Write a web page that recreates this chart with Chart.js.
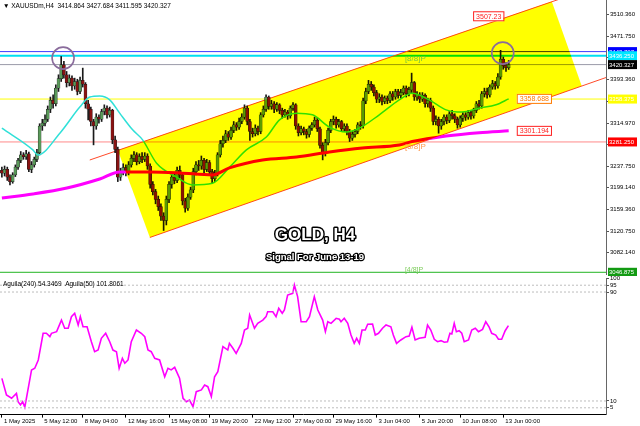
<!DOCTYPE html>
<html>
<head>
<meta charset="utf-8">
<script src="https://cdn.jsdelivr.net/npm/chart.js@4"></script>
<style>
  html, body { margin: 0; padding: 0; background: #fff; }
  #wrap { position: relative; width: 640px; height: 426px; overflow: hidden; }
  #main { position: absolute; left: 0; top: 0; }
  #ind { position: absolute; left: 0; top: 276px; }
</style>
</head>
<body>
<div id="wrap">
  <canvas id="main" width="640" height="276"></canvas>
  <canvas id="ind" width="640" height="150"></canvas>
</div>
<script>
// ---- XAUUSD H4 candles (bar index 0 = 1 May 2025 00:00) ----
const opens = [3230,3225,3232,3218,3210,3222,3236,3248,3258,3255,
  3260,3232,3240,3250,3262,3310,3315,3322,3340,3356,
  3350,3378,3395,3420,3402,3388,3396,3382,3390,3372,
  3392,3385,3350,3340,3318,3310,3326,3322,3336,3342,
  3330,3338,3285,3268,3218,3228,3235,3226,3240,3252,
  3258,3246,3255,3250,3256,3238,3205,3192,3178,3165,
  3148,3140,3178,3205,3218,3212,3230,3222,3175,3162,
  3182,3195,3228,3240,3238,3248,3232,3244,3228,3215,
  3225,3258,3278,3284,3296,3290,3302,3312,3308,3318,
  3326,3342,3318,3300,3296,3306,3300,3330,3340,3362,
  3345,3350,3340,3348,3338,3330,3335,3328,3342,3348,
  3310,3298,3305,3300,3295,3306,3312,3320,3305,3275,
  3262,3280,3302,3318,3322,3312,3318,3305,3310,3300,
  3288,3295,3300,3312,3310,3355,3372,3385,3380,3370,
  3358,3362,3354,3360,3356,3368,3362,3372,3365,3370,
  3378,3368,3375,3388,3362,3366,3358,3365,3350,3356,
  3342,3318,3322,3310,3318,3326,3320,3332,3328,3322,
  3312,3324,3330,3326,3334,3328,3338,3350,3346,3368,
  3372,3366,3380,3386,3382,3398,3430,3418,3414.864];
const highs = [3236,3238,3236,3222,3226,3240,3252,3264,3262,3266,
  3263,3246,3254,3268,3314,3322,3330,3346,3362,3366,
  3384,3402,3435,3426,3408,3402,3400,3396,3394,3398,
  3414,3388,3356,3344,3322,3332,3330,3340,3348,3346,
  3344,3340,3292,3272,3234,3242,3240,3246,3258,3264,
  3262,3260,3262,3262,3260,3242,3210,3196,3184,3170,
  3154,3184,3210,3224,3226,3236,3238,3226,3180,3188,
  3200,3234,3246,3248,3256,3252,3250,3248,3232,3230,
  3262,3284,3292,3302,3300,3308,3318,3316,3324,3332,
  3348,3346,3322,3306,3312,3310,3334,3346,3366,3364,
  3356,3354,3352,3350,3342,3340,3338,3346,3352,3350,
  3314,3310,3308,3304,3310,3316,3326,3324,3308,3280,
  3286,3306,3322,3328,3326,3322,3320,3314,3314,3304,
  3300,3304,3316,3318,3360,3378,3392,3390,3384,3374,
  3368,3366,3364,3364,3372,3372,3376,3376,3376,3382,
  3382,3380,3405,3390,3372,3370,3370,3368,3360,3360,
  3346,3328,3326,3322,3330,3330,3336,3338,3332,3326,
  3328,3334,3334,3338,3338,3342,3354,3356,3372,3378,
  3378,3384,3392,3390,3404,3446,3434,3424,3427.684];
const lows = [3218,3220,3212,3204,3207,3219,3232,3244,3250,3250,
  3228,3226,3236,3246,3258,3302,3310,3318,3334,3342,
  3346,3372,3390,3396,3380,3382,3374,3376,3366,3368,
  3380,3342,3321,3310,3276,3304,3315,3318,3330,3324,
  3326,3278,3262,3210,3212,3222,3220,3222,3236,3246,
  3240,3242,3244,3246,3232,3198,3186,3170,3158,3140,
  3122,3132,3172,3198,3206,3208,3216,3168,3155,3158,
  3178,3190,3222,3230,3232,3226,3228,3222,3207,3210,
  3220,3254,3272,3280,3284,3286,3298,3302,3304,3314,
  3322,3312,3284,3290,3292,3294,3296,3326,3336,3340,
  3340,3334,3336,3332,3324,3326,3322,3324,3338,3304,
  3292,3294,3294,3288,3290,3302,3308,3300,3270,3249,
  3256,3276,3298,3312,3306,3308,3300,3300,3294,3282,
  3284,3290,3296,3304,3306,3350,3368,3374,3364,3352,
  3352,3348,3350,3350,3352,3356,3358,3360,3360,3366,
  3362,3364,3370,3356,3356,3352,3354,3344,3344,3336,
  3312,3312,3297,3304,3312,3314,3316,3322,3316,3306,
  3308,3318,3320,3322,3322,3324,3334,3340,3342,3362,
  3360,3362,3376,3376,3378,3394,3412,3408,3411.595];
const closes = [3225,3232,3218,3210,3222,3236,3248,3258,3255,3260,
  3232,3240,3250,3262,3310,3315,3322,3340,3356,3350,
  3378,3395,3420,3402,3388,3396,3382,3390,3372,3392,
  3385,3350,3340,3318,3310,3326,3322,3336,3342,3330,
  3338,3285,3268,3218,3228,3235,3226,3240,3252,3258,
  3246,3255,3250,3256,3238,3205,3192,3178,3165,3148,
  3140,3178,3205,3218,3212,3230,3222,3175,3162,3182,
  3195,3228,3240,3238,3248,3232,3244,3228,3215,3225,
  3258,3278,3284,3296,3290,3302,3312,3308,3318,3326,
  3342,3318,3300,3296,3306,3300,3330,3340,3362,3345,
  3350,3340,3348,3338,3330,3335,3328,3342,3348,3310,
  3298,3305,3300,3295,3306,3312,3320,3305,3275,3262,
  3280,3302,3318,3322,3312,3318,3305,3310,3300,3288,
  3295,3300,3312,3310,3355,3372,3385,3380,3370,3358,
  3362,3354,3360,3356,3368,3362,3372,3365,3370,3378,
  3368,3375,3388,3362,3366,3358,3365,3350,3356,3342,
  3318,3322,3310,3318,3326,3320,3332,3328,3322,3312,
  3324,3330,3326,3334,3328,3338,3350,3346,3368,3372,
  3366,3380,3386,3382,3398,3430,3418,3415,3420.327];

// moving averages at sparse bars
const fastMaIdx = [0, 11.5, 13.3, 21.5, 28.9, 32.6, 36.3, 40, 43.7, 48.5, 52.2, 57.4, 64.8, 70.7, 78.1, 84.5, 90.7, 98.1, 103, 109.3, 115.2, 121.5, 127.8, 132.6, 140, 147.4, 152.2, 158.5, 164.8, 170.7, 177, 183.3, 188];
const fastMaVal = [3306, 3267, 3258, 3297, 3344, 3362, 3364, 3357, 3333, 3303, 3285, 3243, 3218, 3204, 3207, 3236, 3267, 3290, 3321, 3333, 3330, 3308, 3299, 3306, 3330, 3357, 3369, 3357, 3339, 3335, 3342, 3348, 3358.688];
const slowMaIdx = [0, 11.5, 24.1, 36.3, 43.7, 54.8, 66, 78.1, 84.4, 96.7, 109.3, 121.5, 133.7, 147.4, 152.2, 164.8, 177, 188];
const slowMaVal = [3180.5, 3187.7, 3198.4, 3214.6, 3227.3, 3227.3, 3225.5, 3221.9, 3234.6, 3248.8, 3254.2, 3263.2, 3270.4, 3275.8, 3282, 3292, 3298, 3301.194];

// horizontal levels and price axis
const levelPrices = [3443.707, 3436.250, 3420.327, 3358.375, 3281.250, 3046.875];
const priceTicks = [3510.360, 3471.750, 3432.550, 3393.360, 3354.170, 3314.970, 3276.360, 3237.750, 3199.140, 3159.360, 3120.750, 3082.140];

// rising channel
const chanIdx = [43, 54.9, 215.1, 204];
const chanPrice = [3266.1, 3109.5, 3381.9, 3533.8];
const upperEdgeIdx = [32.6, 215];
const upperEdgePrice = [3248.8, 3551.6];
const lowerEdgeIdx = [54.9, 224.1];
const lowerEdgePrice = [3109.5, 3397.1];

// highlighted tops
const circleIdx = [22.7, 185.8];
const circlePrice = [3432, 3441];

// Aguila oscillator
const aguilaIdx = [0, 1.7, 3.6, 5.4, 6, 6.9, 7.7, 8.5, 11, 12.2,
  13.5, 15.3, 16.5, 17.8, 18.4, 20.3, 22.1, 23.3, 24.6, 25.8,
  27, 28.3, 29.1, 30.1, 31.6, 33.2, 34.4, 35.7, 36.9, 38.5,
  40, 41.2, 42.5, 43.5, 44.7, 45.6, 46.8, 48, 49.9, 51.7,
  53, 54.2, 55.4, 56.7, 58.5, 60.4, 61.6, 62.8, 64.1, 65.9,
  67.2, 68.4, 69.6, 70.9, 72.1, 74, 75.2, 76.4, 77.7, 78.9,
  80.1, 82, 83.8, 84.4, 85.7, 86.9, 88.8, 90, 91.2, 91.9,
  93.7, 94.9, 96.8, 98, 98.6, 100.5, 101.7, 102.7, 104, 104.8,
  106, 107.9, 108.5, 109.7, 111, 112.9, 114.1, 115.9, 117.2, 119,
  120, 120.9, 122.1, 124, 125.2, 125.8, 127, 128.3, 129.5, 130.7,
  131.6, 132.6, 133.6, 134.8, 135.7, 137.5, 138.5, 139.7, 141.2, 142.5,
  144.3, 145.2, 146.4, 148, 149.9, 151.1, 152.1, 153.3, 154.8, 157,
  157.9, 159.1, 160.4, 161.6, 162.9, 164.1, 165.3, 166.2, 166.9, 167.8,
  168.6, 169.6, 170.6, 171.5, 173.1, 174.3, 175.6, 176.8, 178.3, 179.5,
  180.7, 181.7, 183.2, 184.2, 185.4, 186.7, 187.9];
const aguilaVal = [26.6, 14.4, 12, 15.6, 9.5, 7.1, 9.5, 5.4, 32.8, 34,
  40.1, 59.7, 59.7, 57.2, 59.7, 60.9, 69.4, 63.4, 63.4, 71.9,
  74.4, 65.8, 71.9, 64.5, 64.5, 53.5, 46.2, 47.4, 56, 59.7,
  53.5, 47.4, 46.2, 34, 41.3, 37.7, 40.1, 53.5, 62.1, 59.7,
  57.2, 47.4, 46.2, 41.3, 40.1, 27.8, 34, 32.8, 34.7, 26.7,
  12, 9.5, 10.7, 5.8, 16.8, 18.1, 21.7, 20.5, 13.2, 27.8,
  31.5, 49.9, 47.4, 52.3, 48.7, 45, 52.3, 62.1, 63.4, 73.1,
  63.4, 67, 69.4, 71.9, 75.5, 75.5, 71.9, 78, 74.4, 76.8,
  87.8, 89, 95.1, 86.6, 68.2, 68.2, 71.9, 86.6, 76.8, 69.4,
  60.9, 68.2, 67, 70.7, 70, 68.2, 70.7, 67, 58.4, 52.3,
  56, 52.3, 62.1, 62.1, 66.3, 66.5, 58.4, 59.7, 63.4, 65.8,
  64.5, 58.4, 52.3, 54.8, 57.2, 57.7, 64.1, 54.8, 56, 56.8,
  65.8, 62.1, 55.3, 53.5, 54.3, 53.1, 53.5, 59.7, 59.2, 67,
  60.9, 61.6, 59.7, 53.5, 54.8, 62.1, 63.4, 60.9, 62.6, 68.2,
  64.5, 59.7, 58.4, 55.3, 55.3, 61.6, 65.3];
const indLevels = [95, 90, 10, 5];
const indTicks = [100, 95, 90, 10, 5];

// time axis
const timeTickIdx = [0, 15, 30, 46, 62, 77, 93, 108, 123, 139, 155, 170, 186];
const timeTickLabels = ['1 May 2025', '5 May 12:00', '8 May 04:00', '12 May 16:00', '15 May 08:00', '19 May 20:00',
  '22 May 12:00', '27 May 00:00', '29 May 16:00', '3 Jun 04:00', '5 Jun 20:00', '10 Jun 08:00', '13 Jun 00:00'];

const X_MIN = -0.7, X_MAX = 224.1;
const P_MIN = 3043.8, P_MAX = 3536.5;
const FONT = 'Liberation Sans';

Chart.defaults.font.family = FONT;
Chart.defaults.color = '#000';

const levelColors = ['#3c3cff', '#00e0f0', '#9a9aa8', '#ffff00', '#ff8a8a', '#22b422'];
const levelWidths = [1, 2, 1, 1, 1, 1];
const boxColors = ['#0000ff', '#00e8ff', '#000000', '#ffff00', '#ff0000', '#129a12'];

const pts = (xs, ys) => xs.map((x, i) => ({x: x, y: ys[i]}));
const flat = (v) => [{x: X_MIN, y: v}, {x: X_MAX, y: v}];

const levelSets = levelPrices.map((v, i) => ({
  type: 'line', data: flat(v), borderColor: levelColors[i], borderWidth: levelWidths[i],
  pointRadius: 0, order: 6
}));

const wickSet = {
  type: 'bar', data: highs.map((h, i) => ({x: i, y: [lows[i], h]})),
  backgroundColor: '#1a1a1a', barThickness: 1, grouped: false, order: 4
};
const bodySet = {
  type: 'bar', data: opens.map((o, i) => ({x: i, y: [o, closes[i]]})),
  backgroundColor: opens.map((o, i) => closes[i] >= o ? '#5a9a5a' : '#8a1212'),
  borderColor: '#1a1a1a', borderWidth: 0.5, borderSkipped: false,
  barThickness: 3, minBarLength: 1, grouped: false, order: 3
};

const mainOverlay = {
  id: 'mainOverlay',
  afterDatasetsDraw(chart) {
    const {ctx, chartArea: a, scales: {x, y}} = chart;
    const px = (i) => x.getPixelForValue(i);
    const py = (p) => y.getPixelForValue(p);
    ctx.save();
    ctx.beginPath();
    ctx.rect(a.left, a.top, a.right - a.left, a.bottom - a.top);
    ctx.clip();
    // channel fill multiplies over what is already drawn (magenta -> red, cyan -> green)
    ctx.globalCompositeOperation = 'multiply';
    ctx.fillStyle = '#ffff00';
    ctx.beginPath();
    chanIdx.forEach((i, k) => {
      if (k === 0) ctx.moveTo(px(i), py(chanPrice[k]));
      else ctx.lineTo(px(i), py(chanPrice[k]));
    });
    ctx.closePath();
    ctx.fill();
    ctx.globalCompositeOperation = 'source-over';

    // circles around the two tops
    ctx.strokeStyle = '#8a6c9c';
    ctx.lineWidth = 1.6;
    circleIdx.forEach((i, k) => {
      ctx.beginPath();
      ctx.arc(px(i), py(circlePrice[k]), 11, 0, Math.PI * 2);
      ctx.stroke();
    });

    // murrey labels
    ctx.font = '8px ' + FONT;
    ctx.textBaseline = 'middle';
    ctx.fillStyle = '#78c43c';
    ctx.fillText('[8/8]P', px(149.5), py(3430));
    ctx.fillStyle = '#ff9a50';
    ctx.fillText('[6/8]P', px(149.5), py(3272));
    ctx.fillStyle = '#7ccc5a';
    ctx.font = '7px ' + FONT;
    ctx.fillText('[4/8]P', px(149.5), py(3051));

    // price tags inside the chart
    const tag = (i, p, text, color) => {
      ctx.font = '7px ' + FONT;
      const w = ctx.measureText(text).width + 5;
      const x0 = px(i), y0 = py(p);
      ctx.fillStyle = '#fff';
      ctx.fillRect(x0, y0 - 5, w, 10);
      ctx.strokeStyle = color;
      ctx.lineWidth = 1;
      ctx.strokeRect(x0 + 0.5, y0 - 4.5, w, 9);
      ctx.fillStyle = color;
      ctx.fillText(text, x0 + 3, y0 + 0.5);
    };
    tag(191, 3358.688, '3358.688', '#ff7a00');
    tag(191, 3301.194, '3301.194', '#ff2020');
    tag(174.8, 3507.23, '3507.23', '#ff2020');

    // title
    ctx.textAlign = 'center';
    ctx.lineJoin = 'round';
    ctx.font = 'bold 17px ' + FONT;
    ctx.strokeStyle = '#000';
    ctx.lineWidth = 3;
    ctx.strokeText('GOLD, H4', 315, 235);
    ctx.fillStyle = '#fff';
    ctx.fillText('GOLD, H4', 315, 235);
    ctx.font = 'bold 9.5px ' + FONT;
    ctx.lineWidth = 2.5;
    ctx.strokeText('Signal For June 13-19', 315, 257);
    ctx.fillText('Signal For June 13-19', 315, 257);
    ctx.restore();
  },
  afterDraw(chart) {
    const {ctx, chartArea: a, scales: {y}} = chart;
    ctx.save();
    // coloured tags on the price axis
    ctx.font = '6px ' + FONT;
    ctx.textBaseline = 'middle';
    levelPrices.forEach((v, i) => {
      const yy = y.getPixelForValue(v);
      ctx.fillStyle = boxColors[i];
      ctx.fillRect(a.right + 2, yy - 4.5, 29, 9);
      ctx.fillStyle = '#fff';
      ctx.fillText(v.toFixed(3), a.right + 3, yy + 0.5);
    });
    ctx.fillStyle = '#000';
    ctx.font = '6.5px ' + FONT;
    ctx.fillText('\u25BC XAUUSDm,H4  3414.864 3427.684 3411.595 3420.327', 3, 6);
    ctx.restore();
  }
};

new Chart(document.getElementById('main'), {
  type: 'bar',
  data: {
    datasets: [
      ...levelSets,
      {type: 'line', data: pts(upperEdgeIdx, upperEdgePrice), borderColor: '#ff4a2a', borderWidth: 1, pointRadius: 0, order: 5},
      {type: 'line', data: pts(lowerEdgeIdx, lowerEdgePrice), borderColor: '#ff4a2a', borderWidth: 1, pointRadius: 0, order: 5},
      wickSet,
      bodySet,
      {type: 'line', data: pts(fastMaIdx, fastMaVal), borderColor: '#30e0d8', borderWidth: 1.5, pointRadius: 0, cubicInterpolationMode: 'monotone', order: 2},
      {type: 'line', data: pts(slowMaIdx, slowMaVal), borderColor: '#ff00ff', borderWidth: 3, pointRadius: 0, cubicInterpolationMode: 'monotone', order: 1}
    ]
  },
  options: {
    responsive: false,
    animation: false,
    events: [],
    layout: {padding: {left: 0, right: 0, top: 0, bottom: 2}},
    plugins: {legend: {display: false}, tooltip: {enabled: false}},
    scales: {
      x: {type: 'linear', min: X_MIN, max: X_MAX, offset: false, display: false},
      y: {
        position: 'right', min: P_MIN, max: P_MAX,
        afterBuildTicks: (s) => { s.ticks = priceTicks.map((v) => ({value: v})); },
        afterFit: (s) => { s.width = 34; s.paddingTop = 0; s.paddingBottom = 0; },
        ticks: {font: {size: 6}, padding: 1, callback: (v) => Number(v).toFixed(3)},
        grid: {drawOnChartArea: false, drawTicks: true, tickLength: 3, color: '#555'},
        border: {display: true, color: '#666'}
      }
    }
  },
  plugins: [mainOverlay]
});

const indOverlay = {
  id: 'indOverlay',
  afterDraw(chart) {
    const {ctx} = chart;
    ctx.save();
    ctx.fillStyle = '#000';
    ctx.font = '6.5px ' + FONT;
    ctx.textBaseline = 'middle';
    ctx.fillText('Aguila(240) 54.3469  Aguila(50) 101.8061', 3, 8);
    ctx.restore();
  }
};

new Chart(document.getElementById('ind'), {
  type: 'line',
  data: {
    datasets: [
      ...indLevels.map((v) => ({data: flat(v), borderColor: '#bdbdbd', borderWidth: 1, borderDash: [2, 2], pointRadius: 0})),
      {data: pts(aguilaIdx, aguilaVal), borderColor: '#ff00ff', borderWidth: 1.6, pointRadius: 0}
    ]
  },
  options: {
    responsive: false,
    animation: false,
    events: [],
    layout: {padding: {left: 0, right: 0, top: 2.4, bottom: 0}},
    plugins: {legend: {display: false}, tooltip: {enabled: false}},
    scales: {
      x: {
        type: 'linear', min: X_MIN, max: X_MAX,
        afterBuildTicks: (s) => { s.ticks = timeTickIdx.map((v) => ({value: v})); },
        afterFit: (s) => { s.height = 11.4; s.paddingLeft = 0; s.paddingRight = 0; },
        ticks: {font: {size: 6}, padding: 0, align: 'start', labelOffset: 2, autoSkip: false, maxRotation: 0,
          callback: (v, i) => timeTickLabels[i]},
        grid: {drawOnChartArea: false, drawTicks: true, tickLength: 3, color: '#000'},
        border: {display: true, color: '#000'}
      },
      y: {
        position: 'right', min: 0, max: 100,
        afterBuildTicks: (s) => { s.ticks = indTicks.map((v) => ({value: v})); },
        afterFit: (s) => { s.width = 34; s.paddingTop = 0; s.paddingBottom = 0; },
        ticks: {font: {size: 6}, padding: 1},
        grid: {drawOnChartArea: false, drawTicks: true, tickLength: 3, color: '#555'},
        border: {display: true, color: '#666'}
      }
    }
  },
  plugins: [indOverlay]
});
</script>
</body>
</html>
